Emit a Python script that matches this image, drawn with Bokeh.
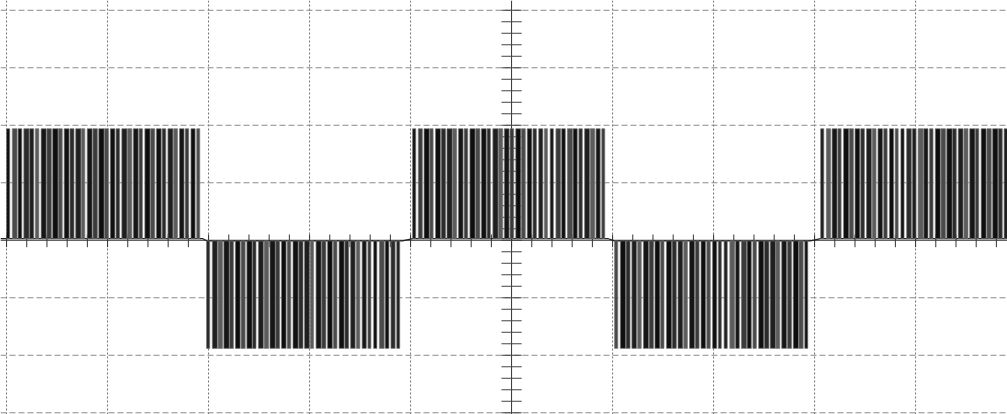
import numpy as np
from bokeh.plotting import figure
from bokeh.models import Range1d
from bokeh.embed import file_html
from bokeh.resources import INLINE

# Screen graticule, in divisions (center of screen is 0, 0)
x_divs = [-5, -4, -3, -2, -1, 1, 2, 3, 4]
y_divs = [-3, -2, -1, 1, 2, 3, 4]

# Each half cycle of the unipolar PWM output: start, end, pulse level, rest level (div)
half_start = [-5.00, -3.02, -0.98, 1.02, 3.06]
half_end = [-3.06, -1.08, 0.95, 2.96, 4.99]
half_level = [1.94, -1.88, 1.94, -1.88, 1.94]
half_rest = [0.03, -0.01, 0.03, -0.01, 0.03]

# Duty ratio of the switching pulses across one half cycle
duty = [0.55, 0.82, 0.64, 0.90, 0.72, 0.60, 0.88, 0.78, 0.93, 0.66,
        0.84, 0.70, 0.91, 0.58, 0.86, 0.76, 0.92, 0.68, 0.80, 0.62,
        0.89, 0.74, 0.85, 0.57, 0.90, 0.71, 0.83, 0.63, 0.87, 0.66,
        0.79, 0.60, 0.72, 0.52]

X0, X1 = -5.06, 4.91
Y0, Y1 = -3.03, 4.17

p = figure(width=1007, height=414, x_range=Range1d(X0, X1), y_range=Range1d(Y0, Y1),
           output_backend="svg", toolbar_location=None, x_axis_type=None, y_axis_type=None,
           min_border=0, outline_line_color=None, background_fill_color="white")
p.xgrid.visible = False
p.ygrid.visible = False

grid_col = "#8a8a8a"
# dashed graticule
p.segment(x0=x_divs, x1=x_divs, y0=[Y0] * len(x_divs), y1=[Y1] * len(x_divs),
          line_color="#6f6f6f", line_width=1, line_dash="2 2")
p.segment(x0=[X0] * len(y_divs), x1=[X1] * len(y_divs), y0=y_divs, y1=y_divs,
          line_color=grid_col, line_width=1, line_dash="6 3")

# center axes with minor ticks
p.segment(x0=[0, X0], x1=[0, X1], y0=[Y0, 0], y1=[Y1, 0], line_color="#333333", line_width=1)
tx = np.arange(-25, 25) * 0.2
p.segment(x0=tx, x1=tx, y0=-0.12, y1=0.1, line_color="#333333", line_width=1)
ty = np.arange(-15, 21) * 0.2
p.segment(x0=-0.1, x1=0.1, y0=ty, y1=ty, line_color="#444444", line_width=1)

# switching waveform: pulse bodies with softer edge strokes
shades = ["#0e0e0e", "#2b2b2b", "#161616", "#4a4a4a", "#1f1f1f", "#3a3a3a", "#101010", "#5c5c5c"]
left, right, bottom, top, fills = [], [], [], [], []
rest_x, rest_y = [], []
n = len(duty)
for k, (s, e, lv, r) in enumerate(zip(half_start, half_end, half_level, half_rest)):
    w = (e - s) / n
    for i in range(n):
        d = duty[(i + 5 * k) % n] if 0 < i < n - 2 else duty[i]
        x0 = s + i * w
        left.append(x0)
        right.append(x0 + d * w)
        bottom.append(min(r, lv))
        top.append(max(r, lv))
        fills.append(shades[(i * 3 + k) % len(shades)])
    rest_x += [s, e]
    rest_y += [r, r]
p.line([X0] + rest_x + [X1], [half_rest[0]] + rest_y + [half_rest[-1]],
       line_color="#222222", line_width=1.2)
p.quad(left=left, right=right, bottom=bottom, top=top,
       fill_color=fills, line_color="#777777", line_width=0.7)

open("out.html", "w").write(file_html(p, INLINE))
